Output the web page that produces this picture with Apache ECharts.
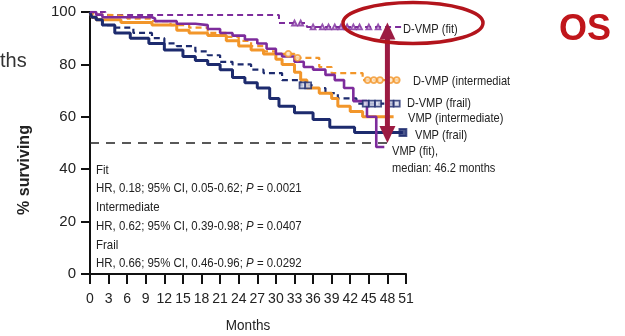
<!DOCTYPE html>
<html><head><meta charset="utf-8">
<script src="https://cdn.jsdelivr.net/npm/echarts@6/dist/echarts.min.js"></script>
<style>html,body{margin:0;padding:0;background:#fff}#c{width:625px;height:336px}</style>
</head><body><div id="c"></div>
<script>
// Kaplan-Meier curves: [month, % surviving]
const dvmpFit = [[0,100],[2.5,98.9],[30.5,95.8],[35,94.3],[50.3,94.3]];
const dvmpInt = [[0,100],[0.5,99],[2,98.5],[6,97.5],[10,96.5],[13,95],[16,94],[19,92],[22,90.5],[24,89],[26,87],[28,85],[30,84],[33,82.5],[37,79],[39,76.7],[44,74],[50.3,74]];
const dvmpFrail = [[0,100],[1,97],[2,95],[3.5,94],[7,92],[10,90],[12,88],[14,87],[17,85],[19,83.5],[21,81],[23,80],[26,78],[28,76.7],[31,74],[34,72],[36,71],[38,69],[40,67],[43,65],[49.8,65]];
const vmpInt = [[0,100],[0.3,98],[1,97],[5,96],[10,95],[14,93],[16,92],[19,91],[22,89],[24,87],[26,85.5],[28,84],[30,82],[31,80],[33,77],[34,74],[35,71],[37,69],[39,67],[40,64],[42,62],[44,60],[49,60]];
const vmpFrail = [[0,100],[0.3,98],[1,97],[2,95],[4,92],[6.5,90],[9.5,88],[12,85.5],[15,83],[17,81.5],[19,80],[21,78],[23,75],[25,73],[27,71],[29,67],[30.5,64],[33,61.5],[36,59],[38.7,56],[42.7,54],[50.5,54]];
const vmpFit = [[0,100],[1,99],[2,98],[10,97.5],[10.5,96.5],[14,95.5],[17,95],[19,93.5],[21,92],[23,91],[25,89.5],[27,88],[28.5,86],[30,84],[31,83],[33,81],[34.5,79],[36,78],[38,76],[39.5,74],[41,71],[42.5,66],[44.7,60],[46.2,48.5],[47.5,48.5]];
const medianLine = [[0,50],[49,50]];
// censoring times (months)
const dvmpFitCensor = [33,34,36,37.5,38.5,39.5,40.5,41.5,42.5,43.5,45,46.5];
const dvmpIntCensor = [32,33.5,44.8,45.8,46.8,48.5,49.5];
const dvmpFrailCensor = [34.3,35.2,44.5,45.5,46.5,48.5,49.5];
const vmpFrailCensor = [50.5];
const seriesNames = ['D-VMP (fit)','D-VMP (intermediate)','D-VMP (frail)','VMP (intermediate)','VMP (frail)','VMP (fit)'];
const hrLines = [
  ['Fit', 'HR, 0.18; 95% CI, 0.05-0.62; ', '= 0.0021'],
  ['Intermediate', 'HR, 0.62; 95% CI, 0.39-0.98; ', '= 0.0407'],
  ['Frail', 'HR, 0.66; 95% CI, 0.46-0.96; ', '= 0.0292']
];
const rightLabels = [
  ['D-VMP (fit)', 403, 29],
  ['D-VMP (intermediat', 413, 81],
  ['D-VMP (frail)', 407, 103],
  ['VMP (intermediate)', 408, 118],
  ['VMP (frail)', 415, 135],
  ['VMP (fit),', 392, 151],
  ['median: 46.2 months', 392, 168]
];

const PURPLE = '#7d2c9c', ORANGE = '#f2962a', NAVY = '#1d2b6e';
const FONT = "'Liberation Sans',Arial,sans-serif";

// value of a KM step curve at time t (lookup, for placing censor ticks on the curve)
function kmAt(curve, t){ let v = curve[0][1]; for (const p of curve){ if (p[0] <= t) v = p[1]; } return v; }

const chart = echarts.init(document.getElementById('c'), null, {renderer:'canvas'});
function km(name, data, color, dashed, width){
  return {name, type:'line', data, step:'end', showSymbol:false, symbol:'none',
    lineStyle:{color, width, type: dashed ? [6,4] : 'solid'}, z: dashed?3:4, animation:false};
}
function cens(curve, times, color, symbol, size, fill){
  return {type:'scatter', data: times.map(t => [t, kmAt(curve, t)]), symbol, symbolSize:size,
    itemStyle:{color: fill, borderColor:color, borderWidth:1.8}, z:5, silent:true};
}
const option = {
  animation:false,
  grid:{left:90, top:12, width:316, height:262},
  xAxis:{type:'value', min:0, max:51, interval:3,
    axisLine:{lineStyle:{color:'#111', width:2}},
    axisTick:{length:10, lineStyle:{color:'#111', width:2}},
    axisLabel:{color:'#222', fontSize:14, fontFamily:FONT, margin:18},
    splitLine:{show:false}},
  yAxis:{type:'value', min:0, max:100, interval:20,
    axisLine:{show:true, lineStyle:{color:'#111', width:2}},
    axisTick:{show:true, length:9, lineStyle:{color:'#111', width:2}},
    axisLabel:{color:'#222', fontSize:15, fontFamily:FONT, margin:14},
    splitLine:{show:false}},
  series:[
    {name:'median', type:'line', data:medianLine, showSymbol:false, symbol:'none',
      lineStyle:{color:'#222', width:1.6, type:[9,7]}, z:2},
    km(seriesNames[0], dvmpFit, PURPLE, true, 2),
    km(seriesNames[1], dvmpInt, ORANGE, true, 2.2),
    km(seriesNames[2], dvmpFrail, NAVY, true, 2.2),
    km(seriesNames[3], vmpInt, ORANGE, false, 3),
    km(seriesNames[4], vmpFrail, NAVY, false, 3),
    km(seriesNames[5], vmpFit, PURPLE, false, 2.6),
    cens(dvmpFit, dvmpFitCensor, PURPLE, 'triangle', 5, '#e9d6f0'),
    cens(dvmpInt, dvmpIntCensor, ORANGE, 'circle', 6, '#fde3c2'),
    cens(dvmpFrail, dvmpFrailCensor, NAVY, 'rect', 6, '#d4d8ea'),
    cens(vmpFrail, vmpFrailCensor, NAVY, 'rect', 7, NAVY)
  ]
};
chart.setOption(option);

const g = [];
function txt(x, y, text, opt, sx){
  g.push({type:'text', x, y, scaleX: sx||1, silent:true, z:20,
    style:Object.assign({text, fill:'#222', font:'13px '+FONT, textVerticalAlign:'middle'}, opt||{})});
}
// HR block
let yy = 170;
hrLines.forEach(l => {
  txt(96, yy, l[0], {font:'13px '+FONT}, 0.88);
  g.push({type:'text', x:96, y:yy+18.8, scaleX:0.88, z:20, silent:true,
    style:{text:l[1]+'{i|P} '+l[2], fill:'#222', font:'13px '+FONT, textVerticalAlign:'middle',
      rich:{i:{fontStyle:'italic', fontSize:13, fontFamily:FONT, fill:'#222'}}}});
  yy += 37.5;
});
// right labels
rightLabels.forEach(r => txt(r[1], r[2], r[0], {font:'13.5px '+FONT}, 0.82));
// axis names
g.push({type:'text', x:25, y:170, rotation:Math.PI/2, z:20,
  style:{text:'% surviving', fill:'#222', font:'bold 16px '+FONT, textAlign:'center', textVerticalAlign:'middle'}});
g.push({type:'text', x:248, y:326, scaleX:0.9, z:20,
  style:{text:'Months', fill:'#222', font:'15px '+FONT, textAlign:'center', textVerticalAlign:'middle'}});
// slide fragments
txt(0, 61, 'ths', {font:'20px '+FONT, fill:'#333'});
txt(559, 30, 'OS', {font:'bold 36px '+FONT, fill:'#c0161b'});

// annotations anchored to data coordinates
const pTop = chart.convertToPixel({gridIndex:0}, [48, 96]);
const pBot = chart.convertToPixel({gridIndex:0}, [48, 50]);
const ax = pTop[0], ah = 17, aw = 8;
g.push({type:'rect', z:25, shape:{x:ax-2.5, y:pTop[1]+ah-2, width:5, height:(pBot[1]-pTop[1])-2*ah+4}, style:{fill:'#9c1b42'}});
g.push({type:'polygon', z:25, shape:{points:[[ax,pTop[1]],[ax-aw,pTop[1]+ah],[ax+aw,pTop[1]+ah]]}, style:{fill:'#9c1b42'}});
g.push({type:'polygon', z:25, shape:{points:[[ax,pBot[1]],[ax-aw,pBot[1]-ah],[ax+aw,pBot[1]-ah]]}, style:{fill:'#9c1b42'}});
g.push({type:'ellipse', z:26, shape:{cx:413, cy:23, rx:70, ry:20.5}, style:{fill:'none', stroke:'#b3141c', lineWidth:3.5}});

chart.setOption({graphic:g});
</script></body></html>
